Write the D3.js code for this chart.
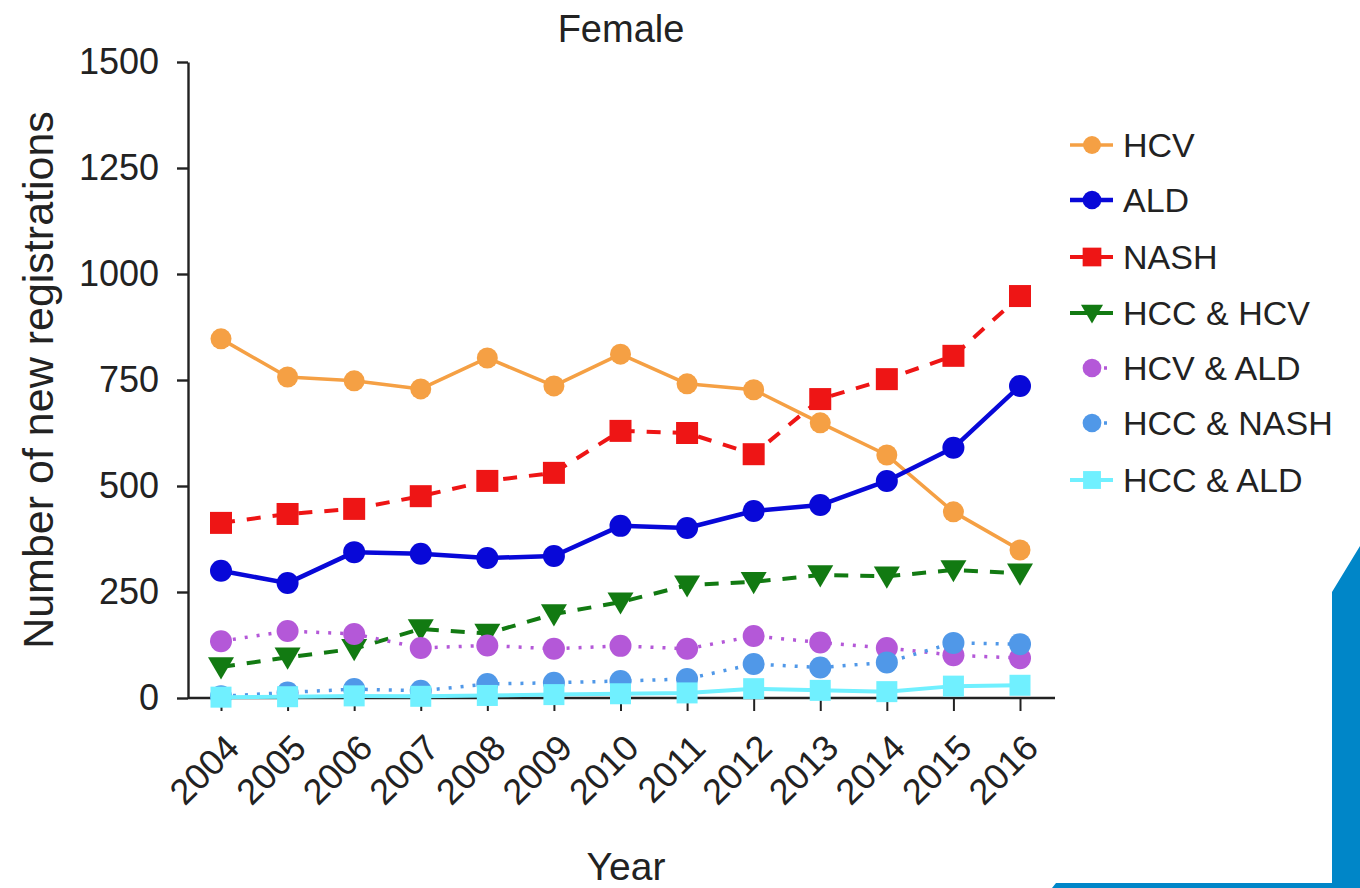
<!DOCTYPE html>
<html>
<head>
<meta charset="utf-8">
<script src="https://cdn.jsdelivr.net/npm/d3@7"></script>
<style>
  html, body { margin: 0; padding: 0; background: #fff; }
  svg { display: block; font-family: "Liberation Sans", Arial, Helvetica, sans-serif; }
</style>
</head>
<body>
<svg id="chart" width="1360" height="888"></svg>
<script>
// Yearly new registrations, female patients
const years = [2004, 2005, 2006, 2007, 2008, 2009, 2010, 2011, 2012, 2013, 2014, 2015, 2016];
const yTicks = [0, 250, 500, 750, 1000, 1250, 1500];

const hcv       = [847, 757, 748, 729, 802, 736, 811, 741, 727, 649, 573, 439, 349];
const ald       = [300, 271, 344, 340, 330, 335, 406, 401, 441, 455, 512, 590, 736];
const nash      = [413, 434, 446, 476, 512, 531, 630, 625, 575, 705, 752, 807, 948];
const hccHcv    = [ 73,  96, 116, 163, 152, 198, 226, 266, 274, 290, 287, 302, 294];
const hcvAld    = [134, 158, 151, 118, 124, 116, 123, 116, 146, 131, 118, 101,  94];
const hccNash   = [  4,  13,  21,  17,  33,  36,  40,  45,  80,  72,  84, 130, 127];
const hccAld    = [  2,   3,   5,   4,   6,   8,  10,  12,  22,  18,  15,  28,  30];

const seriesNames = ["HCV", "ALD", "NASH", "HCC & HCV", "HCV & ALD", "HCC & NASH", "HCC & ALD"];
const seriesValues = [hcv, ald, nash, hccHcv, hcvAld, hccNash, hccAld];

// Appearance of each series
const styles = [
  { color: "#F5A044", width: 3.5, dash: null,    legendDash: null,   shape: "circle",   size: 10.5 },
  { color: "#0808D8", width: 4.5, dash: null,    legendDash: null,   shape: "circle",   size: 11 },
  { color: "#EE1515", width: 4,   dash: "14,12", legendDash: null,   shape: "square",   size: 11 },
  { color: "#127A12", width: 4,   dash: "14,12", legendDash: null,   shape: "triangle", size: 13 },
  { color: "#B458D8", width: 3.5, dash: "3,9",   legendDash: "0,34,3,20", shape: "circle", size: 11 },
  { color: "#5098E8", width: 3.5, dash: "3,9",   legendDash: "0,34,3,20", shape: "circle", size: 11 },
  { color: "#70F0FF", width: 4,   dash: null,    legendDash: null,   shape: "square",   size: 10.5 }
];

const svg = d3.select("#chart");
const plot = { left: 188, top: 62, bottom: 698, xFirst: 221, xLast: 1020, axisEnd: 1055 };

const x = d3.scalePoint().domain(years).range([plot.xFirst, plot.xLast]);
const y = d3.scaleLinear().domain([0, 1500]).range([plot.bottom, plot.top]);

// Decorative page frame
svg.append("path")
  .attr("d", "M1332,592 L1360,546 L1360,888 L1052,888 L1056,883 L1332,883 Z")
  .attr("fill", "#0086C8");

// Title
svg.append("text")
  .attr("x", 621).attr("y", 42)
  .attr("text-anchor", "middle")
  .attr("font-size", 38).attr("fill", "#222")
  .text("Female");

// Y axis
const yAxis = svg.append("g")
  .attr("transform", `translate(${plot.left},0)`)
  .call(d3.axisLeft(y).tickValues(yTicks).tickFormat(d3.format("d"))
    .tickSize(11).tickPadding(18).tickSizeOuter(0));
yAxis.select(".domain").attr("stroke", "#222").attr("stroke-width", 2.4);
yAxis.selectAll(".tick line").attr("stroke", "#222").attr("stroke-width", 2.4);
yAxis.selectAll(".tick text").attr("font-size", 36).attr("fill", "#222")
  .attr("font-family", "'Liberation Sans', Arial, sans-serif");

// X axis
const xAxis = svg.append("g")
  .attr("transform", `translate(0,${plot.bottom})`)
  .call(d3.axisBottom(x).tickSize(13).tickSizeOuter(0));
xAxis.select(".domain").remove();
xAxis.append("line")
  .attr("x1", plot.left).attr("x2", plot.axisEnd)
  .attr("y1", 0).attr("y2", 0)
  .attr("stroke", "#222").attr("stroke-width", 2.4);
xAxis.selectAll(".tick line").attr("stroke", "#222").attr("stroke-width", 2);
xAxis.selectAll(".tick text")
  .attr("font-size", 36).attr("fill", "#222")
  .attr("font-family", "'Liberation Sans', Arial, sans-serif")
  .attr("text-anchor", "end")
  .attr("y", 0).attr("dy", 0)
  .attr("transform", "translate(20,52) rotate(-45)");

// Axis titles
svg.append("text")
  .attr("transform", `translate(53,380) rotate(-90)`)
  .attr("text-anchor", "middle")
  .attr("font-size", 43).attr("fill", "#222")
  .text("Number of new registrations");

svg.append("text")
  .attr("x", 626).attr("y", 880)
  .attr("text-anchor", "middle")
  .attr("font-size", 39).attr("fill", "#222")
  .text("Year");

// Marker drawing helper
function drawMarker(sel, st) {
  if (st.shape === "circle") {
    sel.append("circle").attr("r", st.size).attr("fill", st.color);
  } else if (st.shape === "square") {
    sel.append("rect")
      .attr("x", -st.size).attr("y", -st.size)
      .attr("width", st.size * 2).attr("height", st.size * 2)
      .attr("fill", st.color);
  } else {
    const s = st.size;
    sel.append("path")
      .attr("d", `M${-s},${-s * 0.75} L${s},${-s * 0.75} L0,${s * 0.95} Z`)
      .attr("fill", st.color);
  }
}

const line = d3.line().x((d, i) => x(years[i])).y(d => y(d));

// Series lines and markers
seriesValues.forEach((vals, k) => {
  const st = styles[k];
  const g = svg.append("g").attr("class", "series");
  g.append("path")
    .datum(vals)
    .attr("d", line)
    .attr("fill", "none")
    .attr("stroke", st.color)
    .attr("stroke-width", st.width)
    .attr("stroke-dasharray", st.dash)
    .attr("stroke-linejoin", "round");
  g.selectAll("g.pt")
    .data(vals)
    .join("g")
    .attr("class", "pt")
    .attr("transform", (d, i) => `translate(${x(years[i])},${y(d)})`)
    .each(function () { drawMarker(d3.select(this), st); });
});

// Legend
const legendRows = [145, 200, 257, 313, 368, 423, 480];
const legend = svg.append("g").attr("transform", "translate(1070,0)");
seriesNames.forEach((name, k) => {
  const st = styles[k];
  const row = legend.append("g").attr("transform", `translate(0,${legendRows[k]})`);
  row.append("line")
    .attr("x1", 0).attr("x2", 43).attr("y1", 0).attr("y2", 0)
    .attr("stroke", st.color).attr("stroke-width", st.width)
    .attr("stroke-dasharray", st.legendDash);
  const m = row.append("g").attr("transform", "translate(22,0)");
  drawMarker(m, Object.assign({}, st, { size: st.size * 0.85 }));
  row.append("text")
    .attr("x", 53).attr("y", 0).attr("dy", "0.36em")
    .attr("font-size", 34).attr("fill", "#222")
    .text(name);
});
</script>
</body>
</html>
